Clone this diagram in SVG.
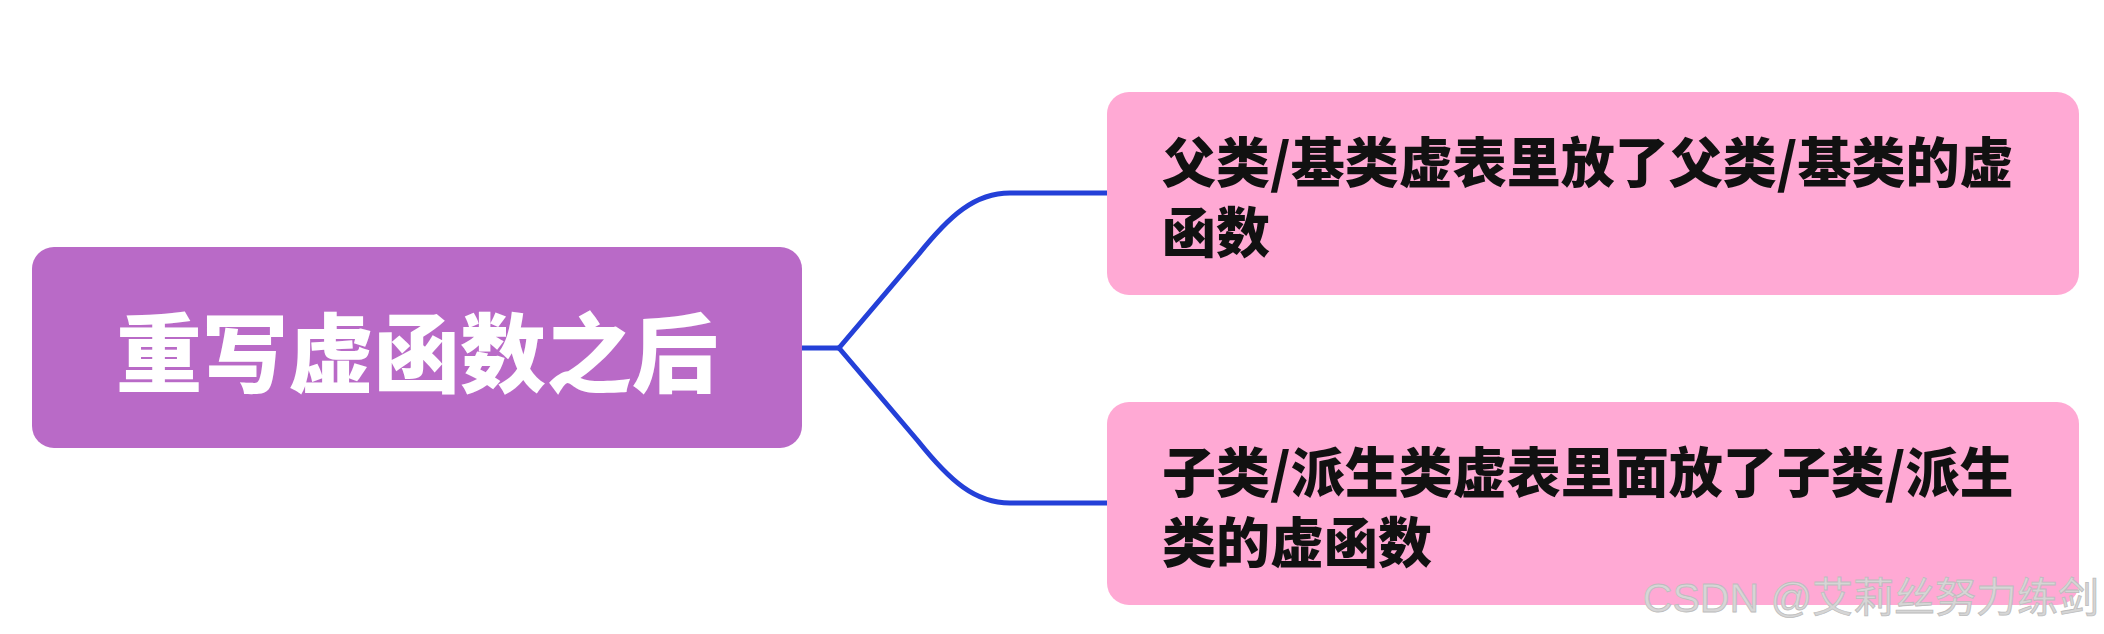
<svg xmlns="http://www.w3.org/2000/svg" width="2104" height="634" viewBox="0 0 2104 634">
<style>
.root{fill:#b96ac7}
.leaf{fill:#ffa9d4}
.rt{font-family:"Noto Sans CJK SC","Noto Sans",sans-serif;font-weight:900;font-size:86px;fill:#ffffff}
.lt{font-family:"Noto Sans CJK SC","Noto Sans",sans-serif;font-weight:900;font-size:54px;fill:#111111}
.conn{fill:none;stroke:#2440d8;stroke-width:5;stroke-linecap:round;stroke-linejoin:round}
.wm{font-family:"Liberation Sans","Noto Sans CJK SC",sans-serif;font-size:41px;fill:#d6d6d6;stroke:#bdbdbd;stroke-width:0.8}
</style>
<rect width="2104" height="634" fill="#ffffff"/>
<g id="connectors">
<path class="conn" d="M802,348 H839"/>
<path class="conn" d="M839,348 L918,255 C950,215 975,193 1010,193 H1107"/>
<path class="conn" d="M839,348 L918,441 C950,481 975,503 1010,503 H1107"/>
</g>
<g id="root">
<rect class="root" x="32" y="247" width="770" height="201" rx="22" ry="22"/>
<text class="rt" x="417" y="386" text-anchor="middle">重写虚函数之后</text>
</g>
<g id="node-parent">
<rect class="leaf" x="1107" y="92" width="972" height="203" rx="22" ry="22"/>
<text class="lt" x="1162" y="183">父类/基类虚表里放了父类/基类的虚</text>
<text class="lt" x="1162" y="253">函数</text>
</g>
<g id="node-child">
<rect class="leaf" x="1107" y="402" width="972" height="203" rx="22" ry="22"/>
<text class="lt" x="1162" y="493">子类/派生类虚表里面放了子类/派生</text>
<text class="lt" x="1162" y="563">类的虚函数</text>
</g>
<text class="wm" x="2099" y="612" text-anchor="end">CSDN @艾莉丝努力练剑</text>
</svg>
